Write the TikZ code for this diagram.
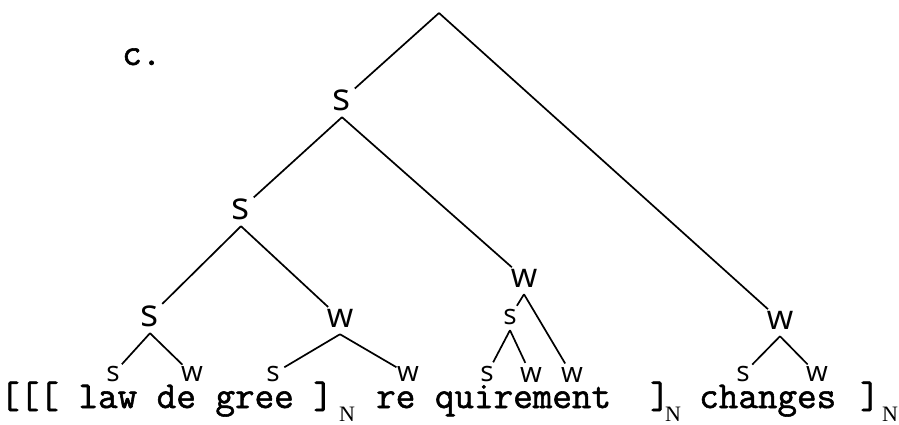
\documentclass[tikz,border=0pt]{standalone}
\usepackage{fontspec}
\setmainfont{Liberation Serif}
\newfontfamily\tw[FakeBold=1.5]{Latin Modern Mono}
\newfontfamily\hw{Open Sans}
\begin{document}
\begin{tikzpicture}[x=1pt,y=-1pt,
  edge/.style={line width=1.7pt, black},
  lbl/.style={circle, inner sep=0pt, text=black},
  bigs/.style={lbl, minimum size=34pt, font=\hw\fontsize{38}{38}\selectfont},
  bigw/.style={lbl, minimum size=30pt, font=\hw\fontsize{34}{34}\selectfont},
  smalls/.style={lbl, minimum size=26pt, font=\hw\fontsize{28}{28}\selectfont},
  word/.style={anchor=base west, inner sep=0pt, font=\tw\fontsize{38}{44}\selectfont},
  sub/.style={anchor=base, inner sep=0pt, font=\rmfamily\fontsize{22}{24}\selectfont}]
\useasboundingbox (0,0) rectangle (899,425);
% label
\node[word] (c) at (122,65) {c.};
% tree labels
\coordinate (R) at (439,13);
\node[bigs] (s1) at (342,100) {s};
\node[bigs] (S2) at (241,209) {s};
\node[bigw] (Wm) at (524,278) {w};
\node[bigw] (Wr) at (780,320) {w};
\node[bigs] (S3) at (150,316) {s};
\node[bigw] (W3) at (340,318) {w};
\node[smalls] (sm) at (510,317) {s};
\node[smalls] (a1) at (113,374) {s};
\node[smalls] (a2) at (192,374) {w};
\node[smalls] (b1) at (273,374) {s};
\node[smalls] (b2) at (408,374) {w};
\node[smalls] (c1) at (487,374) {s};
\node[smalls] (c2) at (531,375) {w};
\node[smalls] (c3) at (572,375) {w};
\node[smalls] (d1) at (743,374) {s};
\node[smalls] (d2) at (817,374) {w};
% connectors
\draw[edge] (R) -- (s1);
\draw[edge] (R) -- (Wr);
\draw[edge] (s1.south) -- (S2);
\draw[edge] (s1.south) -- (Wm);
\draw[edge] (S2.south) -- (S3);
\draw[edge] (S2.south) -- (W3);
\draw[edge] (S3.south) -- (a1);
\draw[edge] (S3.south) -- (a2);
\draw[edge] (W3.south) -- (b1);
\draw[edge] (W3.south) -- (b2);
\draw[edge] (Wm.south) -- (sm);
\draw[edge] (Wm.south) -- (c3);
\draw[edge] (sm.south) -- (c1);
\draw[edge] (sm.south) -- (c2);
\draw[edge] (Wr.south) -- (d1);
\draw[edge] (Wr.south) -- (d2);
% text line
\node[word] (t1) at (0,408) {[[[ law de gree ]};
\node[sub] (n1) at (347,421) {N};
\node[word] (t2) at (376,408) {re quirement};
\node[word] (t3) at (650,408) {]};
\node[sub] (n2) at (673,421) {N};
\node[word] (t4) at (699,408) {changes};
\node[word] (t5) at (860,408) {]};
\node[sub] (n3) at (890,421) {N};
\end{tikzpicture}
\end{document}
